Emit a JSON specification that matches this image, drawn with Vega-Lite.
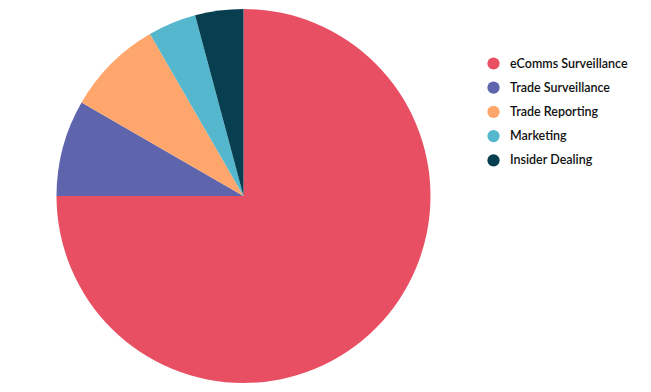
{
  "$schema": "https://vega.github.io/schema/vega-lite/v6.json",
  "width": 487,
  "height": 392,
  "padding": 0,
  "autosize": {"type": "pad"},
  "background": "white",
  "data": {"values": [
    {"category": "eComms Surveillance", "value": 18, "order": 1},
    {"category": "Trade Surveillance", "value": 2, "order": 2},
    {"category": "Trade Reporting", "value": 2, "order": 3},
    {"category": "Marketing", "value": 1, "order": 4},
    {"category": "Insider Dealing", "value": 1, "order": 5}
  ]},
  "mark": {"type": "arc", "outerRadius": 187, "stroke": null},
  "encoding": {
    "theta": {"field": "value", "type": "quantitative", "stack": true},
    "order": {"field": "order", "type": "quantitative"},
    "color": {
      "field": "category",
      "type": "nominal",
      "sort": ["eComms Surveillance", "Trade Surveillance", "Trade Reporting", "Marketing", "Insider Dealing"],
      "scale": {
        "domain": ["eComms Surveillance", "Trade Surveillance", "Trade Reporting", "Marketing", "Insider Dealing"],
        "range": ["#E84F63", "#5E65AD", "#FFA66C", "#55B7CE", "#073F50"]
      },
      "legend": {
        "title": null,
        "orient": "none",
        "legendX": 487,
        "legendY": 57,
        "symbolType": "circle",
        "symbolSize": 150,
        "symbolStrokeWidth": 0,
        "labelFont": "Lato",
        "labelFontSize": 12.5,
        "labelFontWeight": 600,
        "labelColor": "#111111",
        "labelOffset": 10,
        "rowPadding": 11.2,
        "labelLimit": 200
      }
    }
  }
}
